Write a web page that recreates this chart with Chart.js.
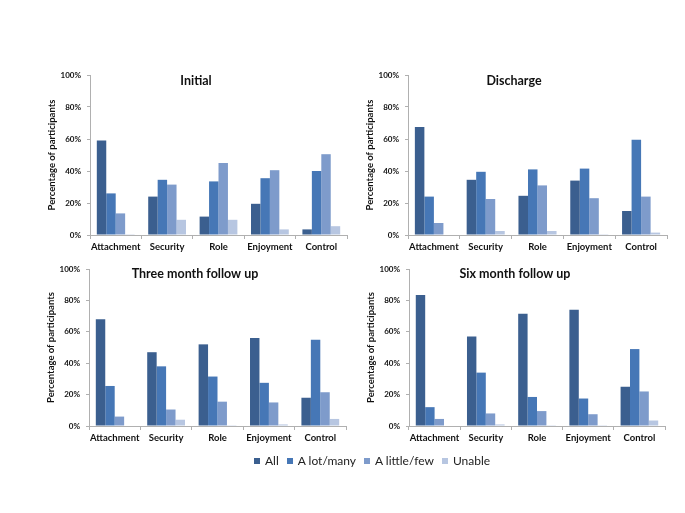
<!DOCTYPE html>
<html>
<head>
<meta charset="utf-8">
<script src="https://cdn.jsdelivr.net/npm/chart.js@4.4.1/dist/chart.umd.min.js"></script>
<style>
  body { margin: 0; background: #fff; }
  #wrap { position: relative; width: 685px; height: 513px; overflow: hidden; font-family: Lato, sans-serif; }
  canvas { position: absolute; }
  #legend { position: absolute; left: 254px; top: 453px; display: flex; font-size: 12px; color: #222; white-space: nowrap; }
  #legend span.item { display: flex; align-items: center; margin-right: 8px; }
  #legend span.box { width: 6px; height: 6px; display: inline-block; margin-right: 5px; }
</style>
</head>
<body>
<div id="wrap">
  <canvas id="c1" width="320" height="200" style="left:40px;top:60px"></canvas>
  <canvas id="c2" width="320" height="200" style="left:358px;top:60px"></canvas>
  <canvas id="c3" width="320" height="197" style="left:39px;top:254px"></canvas>
  <canvas id="c4" width="320" height="197" style="left:359px;top:254px"></canvas>
  <div id="legend"></div>
</div>
<script>
const categories = ['Attachment', 'Security', 'Role', 'Enjoyment', 'Control'];
const seriesNames = ['All', 'A lot/many', 'A little/few', 'Unable'];
const seriesColors = ['#3B5F8F', '#4677B6', '#7E9BCB', '#B7C6E1'];
const yTicks = [0, 20, 40, 60, 80, 100];

// rows: All, A lot/many, A little/few, Unable (percent)
const initial = [
    [59, 24, 11.5, 19.5, 3.5],
    [26, 34.5, 33.5, 35.5, 40],
    [13.5, 31.5, 45, 40.5, 50.5],
    [0.5, 9.5, 9.5, 3.5, 5.5]
];
const discharge = [
    [67.5, 34.5, 24.5, 34, 15],
    [24, 39.5, 41, 41.5, 59.5],
    [7.5, 22.5, 31, 23, 24],
    [0, 2.5, 2.5, 0.5, 1.5]
];
const threeMonth = [
    [68, 47, 52, 56, 18],
    [25.5, 38, 31.5, 27.5, 55],
    [6, 10.5, 15.5, 15, 21.5],
    [0, 4, 0.5, 1, 4.5]
];
const sixMonth = [
    [83.5, 57, 71.5, 74, 25],
    [12, 34, 18.5, 17.5, 49],
    [4.5, 8, 9.5, 7.5, 22],
    [0, 1, 0.5, 0.5, 3.5]
];

// draws the panel title inside the plot area, like the original
const innerTitle = {
    id: 'innerTitle',
    afterDraw(chart, args, opts) {
        const ctx = chart.ctx;
        const a = chart.chartArea;
        ctx.save();
        ctx.font = 'bold 12.5px Lato';
        ctx.fillStyle = '#111';
        ctx.textAlign = 'center';
        ctx.textBaseline = 'middle';
        ctx.fillText(opts.text, a.left + 106, a.top + opts.dy);
        ctx.restore();
    }
};

function makePanel(id, title, rows, padRight, dy) {
    const ctx = document.getElementById(id).getContext('2d');
    return new Chart(ctx, {
        type: 'bar',
        data: {
            labels: categories,
            datasets: rows.map((vals, i) => ({
                label: seriesNames[i],
                data: vals,
                backgroundColor: seriesColors[i],
                borderWidth: 0,
                categoryPercentage: 0.735,
                barPercentage: 1.0
            }))
        },
        options: {
            responsive: false,
            animation: false,
            layout: { padding: { top: 15, right: padRight, left: 0, bottom: 0 } },
            plugins: {
                legend: { display: false },
                tooltip: { enabled: false },
                innerTitle: { text: title, dy: dy }
            },
            scales: {
                x: {
                    grid: { display: true, drawOnChartArea: false, color: '#b0b0b0', tickLength: 4, offset: true },
                    border: { color: '#b0b0b0' },
                    ticks: { color: '#111', font: { family: 'Lato', size: 9.5, weight: 'bold' }, padding: 2, maxRotation: 0, autoSkip: false },
                    afterFit(scale) { scale.height = 25; }
                },
                y: {
                    min: 0,
                    max: 100,
                    afterBuildTicks(scale) { scale.ticks = yTicks.map(v => ({ value: v })); },
                    grid: { display: true, drawOnChartArea: false, color: '#b0b0b0', tickLength: 3 },
                    border: { color: '#b0b0b0' },
                    ticks: { color: '#111', font: { family: 'Lato', size: 8, weight: 'bold' }, padding: 6, callback: v => v + '%' },
                    title: { display: true, text: 'Percentage of participants', color: '#111', font: { family: 'Lato', size: 9.5, weight: 'bold' }, padding: { top: 6, bottom: 0 } },
                    afterFit(scale) { scale.width = 50; }
                }
            }
        },
        plugins: [innerTitle]
    });
}

makePanel('c1', 'Initial', initial, 13, 6);
makePanel('c2', 'Discharge', discharge, 11, 6);
makePanel('c3', 'Three month follow up', threeMonth, 13, 5);
makePanel('c4', 'Six month follow up', sixMonth, 14, 5);

const legend = document.getElementById('legend');
seriesNames.forEach((name, i) => {
    const item = document.createElement('span');
    item.className = 'item';
    item.innerHTML = '<span class="box" style="background:' + seriesColors[i] + '"></span>' + name;
    legend.appendChild(item);
});
</script>
</body>
</html>
